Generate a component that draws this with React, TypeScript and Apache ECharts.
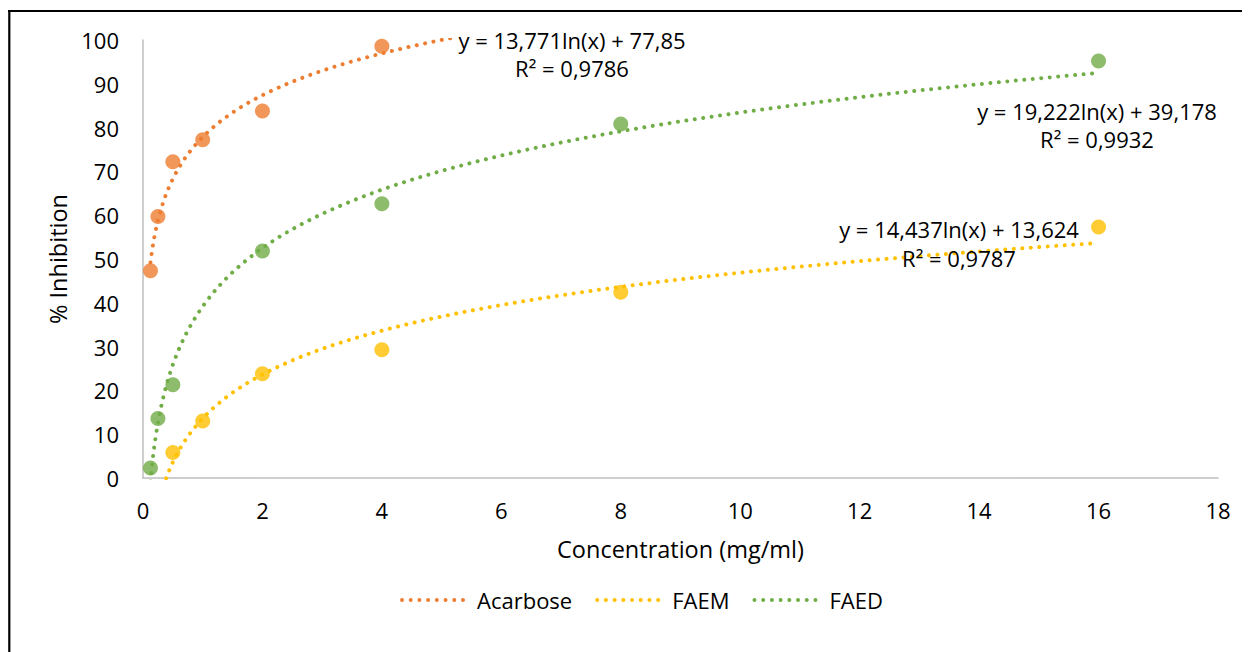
import { useEffect, useRef } from "react";
import * as echarts from "echarts";

// Measured data points
const acarboseX = [0.125, 0.25, 0.5, 1, 2, 4];
const acarboseY = [47.3, 59.7, 72.2, 77.2, 83.8, 98.6];
const faemX = [0.5, 1, 2, 4, 8, 16];
const faemY = [5.8, 13.0, 23.8, 29.3, 42.4, 57.3];
const faedX = [0.125, 0.25, 0.5, 2, 4, 8, 16];
const faedY = [2.3, 13.6, 21.3, 51.8, 62.6, 80.8, 95.2];

// Logarithmic trendlines (y = a ln(x) + b) shown on the chart
const seriesNames = ["Acarbose", "FAEM", "FAED"];
const trendA = [13.771, 14.437, 19.222];
const trendB = [77.85, 13.624, 39.178];
const trendR2 = ["0,9786", "0,9787", "0,9932"];
const trendFrom = [0.125, 0.3, 0.125];
const trendTo = [5.2, 16, 16];
const colors = ["#ED7D31", "#FFC000", "#70AD47"];

const xTicks = { min: 0, max: 18, interval: 2 };
const yTicks = { min: 0, max: 100, interval: 10 };

const FONT = '"Open Sans", sans-serif';

function trendData(i: number): number[][] {
  const pts: number[][] = [];
  const n = 240;
  const l0 = Math.log(trendFrom[i]);
  const l1 = Math.log(trendTo[i]);
  for (let k = 0; k <= n; k++) {
    const x = Math.exp(l0 + ((l1 - l0) * k) / n);
    pts.push([x, trendA[i] * Math.log(x) + trendB[i]]);
  }
  return pts;
}

function fmt(v: number): string {
  return String(v).replace(".", ",");
}

export default function App() {
  const ref = useRef<HTMLDivElement>(null);
  useEffect(() => {
    document.body.style.overflow = "hidden";
    const chart = echarts.init(ref.current!, null, { renderer: "svg" });
    const pointSets = [
      [acarboseX, acarboseY],
      [faemX, faemY],
      [faedX, faedY],
    ];
    const labelPos = [
      [564, 32, 60],
      [951, 221, 250],
      [1089, 103, 131],
    ];
    const series: any[] = [];
    seriesNames.forEach((name, i) => {
      series.push({
        name,
        type: "line",
        data: trendData(i),
        showSymbol: false,
        symbol: "none",
        legendIcon: "none",
        smooth: false,
        clip: true,
        lineStyle: { color: colors[i], width: 4, type: [0.01, 8.5], cap: "round" },
        itemStyle: { color: colors[i] },
        z: 2,
      });
    });
    pointSets.forEach(([xs, ys], i) => {
      series.push({
        name: seriesNames[i] + " data",
        type: "scatter",
        data: xs.map((x, k) => [x, ys[k]]),
        symbol: "circle",
        symbolSize: 15,
        itemStyle: { color: colors[i] },
        z: 3,
      });
    });
    const graphic: any[] = [
      { type: "line", shape: { x1: 1.3, y1: 2, x2: 1.3, y2: 644 }, style: { stroke: "#000", lineWidth: 2.2 } },
      { type: "line", shape: { x1: 0, y1: 3, x2: 1242, y2: 3 }, style: { stroke: "#000", lineWidth: 2.2 } },
    ];
    seriesNames.forEach((_, i) => {
      const [cx, y1, y2] = labelPos[i];
      graphic.push({
        type: "text",
        x: cx,
        y: y1,
        z: 10,
        style: {
          text: `y = ${fmt(trendA[i])}ln(x) + ${fmt(trendB[i])}`,
          fontSize: 22,
          fontFamily: FONT,
          fill: "#000",
          align: "center",
          verticalAlign: "middle",
        },
      });
      graphic.push({
        type: "text",
        x: cx,
        y: y2,
        z: 10,
        style: {
          text: `R² = ${trendR2[i]}`,
          fontSize: 22,
          fontFamily: FONT,
          fill: "#000",
          align: "center",
          verticalAlign: "middle",
        },
      });
    });
    chart.setOption({
      animation: false,
      backgroundColor: "#fff",
      grid: { left: 135, right: 32, top: 32, bottom: 174, containLabel: false },
      xAxis: {
        type: "value",
        ...xTicks,
        name: "Concentration (mg/ml)",
        nameLocation: "middle",
        nameGap: 59,
        nameTextStyle: { fontSize: 23.5, fontFamily: FONT, color: "#000" },
        axisLine: { show: true, lineStyle: { color: "#BFBFBF", width: 1.5 } },
        axisTick: { show: false },
        splitLine: { show: false },
        axisLabel: { margin: 21, fontSize: 22, fontFamily: FONT, color: "#000" },
      },
      yAxis: {
        type: "value",
        ...yTicks,
        name: "% Inhibition",
        nameLocation: "middle",
        nameGap: 67,
        nameTextStyle: { fontSize: 23.5, fontFamily: FONT, color: "#000" },
        axisLine: { show: true, lineStyle: { color: "#BFBFBF", width: 1.5 } },
        axisTick: { show: false },
        splitLine: { show: false },
        axisLabel: { margin: 24, fontSize: 22, fontFamily: FONT, color: "#000" },
      },
      legend: {
        data: seriesNames,
        left: 392,
        top: 581,
        padding: 0,
        itemWidth: 66,
        itemHeight: 14,
        itemGap: 23,
        itemStyle: { opacity: 0 },
        lineStyle: { width: 4, type: [0.01, 8.7], cap: "round" },
        textStyle: { fontSize: 22, fontFamily: FONT, color: "#000", padding: [0, 0, 0, 4] },
      },
      graphic,
      series,
    });
    return () => {
      chart.dispose();
    };
  }, []);
  return <div ref={ref} style={{ width: 1242, height: 644 }} />;
}
